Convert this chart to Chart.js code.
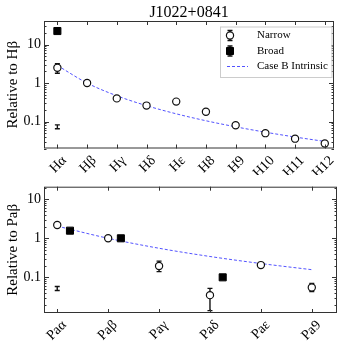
<!DOCTYPE html>
<html>
<head>
<meta charset="utf-8">
<script src="https://cdn.jsdelivr.net/npm/chart.js@4.4.1/dist/chart.umd.min.js"></script>
<style>
  body { margin: 0; background: #fff; }
  #wrap { position: relative; width: 345px; height: 351px; }
  canvas { position: absolute; left: 0; top: 0; }
</style>
</head>
<body>
<div id="wrap">
  <canvas id="top" width="345" height="351"></canvas>
  <canvas id="bottom" width="345" height="351"></canvas>
</div>
<script>
// Balmer panel
const hLabels = ['Hα', 'Hβ', 'Hγ', 'Hδ', 'Hε', 'H8', 'H9', 'H10', 'H11', 'H12'];
const hNarrow = [2.5, 1.0, 0.40, 0.26, 0.33, 0.18, 0.080, 0.050, 0.036, 0.027];
const hNarrowLo = [1.8, null, null, null, null, null, null, null, 0.031, null];
const hNarrowHi = [3.2, null, null, null, null, null, null, null, 0.041, null];
const hBroad = [22.4, null, null, null, null, null, null, null, null, null];
const hCaseB = [2.86, 1.0, 0.468, 0.259, 0.159, 0.105, 0.0731, 0.053, 0.0397, 0.0305];
const hSys = [0.073];
const hSysLo = [0.065];
const hSysHi = [0.082];

// Paschen panel
const paLabels = ['Paα', 'Paβ', 'Paγ', 'Paδ', 'Paε', 'Pa9'];
const paNarrow = [2.2, 1.0, 0.195, 0.035, 0.206, 0.055];
const paNarrowLo = [null, null, 0.14, 0.014, null, 0.043];
const paNarrowHi = [null, null, 0.26, 0.052, null, 0.070];
const paBroad = [1.57, 1.0, null, 0.10, null, null];
const paCaseB = [2.05, 1.0, 0.556, 0.342, 0.226, 0.157];
const paSys = [0.052];
const paSysLo = [0.046];
const paSysHi = [0.058];

const SERIF = '"Liberation Serif", "DejaVu Serif", serif';
const LINE_BLUE = 'rgba(40,40,255,0.8)';

function points(vals, lo, hi, shift) {
    const out = [];
    vals.forEach((v, i) => {
        if (v == null) return;
        out.push({ x: i + shift, y: v, lo: lo ? lo[i] : null, hi: hi ? hi[i] : null });
    });
    return out;
}

// error bars, drawn under the markers
const errorBars = {
    id: 'errorBars',
    beforeDatasetsDraw(chart) {
        const ctx = chart.ctx;
        const a = chart.chartArea;
        const xs = chart.scales.x, ys = chart.scales.y;
        ctx.save();
        ctx.beginPath();
        ctx.rect(a.left, a.top, a.right - a.left, a.bottom - a.top);
        ctx.clip();
        ctx.strokeStyle = '#111';
        ctx.lineWidth = 1.4;
        chart.data.datasets.forEach(ds => {
            ds.data.forEach(p => {
                if (p.lo == null || p.hi == null) return;
                const x = xs.getPixelForValue(p.x);
                const y1 = ys.getPixelForValue(p.lo);
                const y2 = ys.getPixelForValue(p.hi);
                ctx.beginPath();
                ctx.moveTo(x, y1); ctx.lineTo(x, y2);
                ctx.moveTo(x - 2.5, y1); ctx.lineTo(x + 2.5, y1);
                ctx.moveTo(x - 2.5, y2); ctx.lineTo(x + 2.5, y2);
                ctx.stroke();
            });
        });
        ctx.restore();
    }
};

// frame with inward ticks on all sides
const frame = {
    id: 'frame',
    afterDraw(chart) {
        const ctx = chart.ctx;
        const a = chart.chartArea;
        const xs = chart.scales.x, ys = chart.scales.y;
        ctx.save();
        ctx.strokeStyle = '#333';
        ctx.lineWidth = 1;
        ctx.strokeRect(a.left + 0.5, a.top + 0.5, a.right - a.left - 1, a.bottom - a.top - 1);
        ctx.beginPath();
        for (let i = Math.ceil(xs.min); i <= xs.max; i++) {
            const x = Math.round(xs.getPixelForValue(i)) + 0.5;
            ctx.moveTo(x, a.bottom); ctx.lineTo(x, a.bottom - 4);
            ctx.moveTo(x, a.top); ctx.lineTo(x, a.top + 4);
        }
        for (let e = -3; e <= 2; e++) {
            for (let k = 1; k <= 9; k++) {
                const v = k * Math.pow(10, e);
                if (v < ys.min || v > ys.max) continue;
                const y = Math.round(ys.getPixelForValue(v)) + 0.5;
                const len = k === 1 ? 5 : 2.5;
                ctx.moveTo(a.left, y); ctx.lineTo(a.left + len, y);
                ctx.moveTo(a.right, y); ctx.lineTo(a.right - len, y);
            }
        }
        ctx.stroke();
        const t = chart.options.plugins.frame;
        if (t && t.title) {
            ctx.fillStyle = '#000';
            ctx.font = '16px ' + SERIF;
            ctx.textAlign = 'center';
            ctx.textBaseline = 'middle';
            ctx.fillText(t.title, (a.left + a.right) / 2, 13);
        }
        ctx.restore();
    }
};

// legend box inside the upper panel
const insetLegend = {
    id: 'insetLegend',
    afterDraw(chart, args, opts) {
        if (!opts.show) return;
        const ctx = chart.ctx;
        ctx.save();
        ctx.strokeStyle = '#ccc';
        ctx.lineWidth = 1;
        ctx.fillStyle = '#fff';
        ctx.fillRect(opts.x, opts.y, opts.w, opts.h);
        ctx.strokeRect(opts.x + 0.5, opts.y + 0.5, opts.w, opts.h);
        const items = chart.data.datasets.filter(d => d.label);
        items.forEach((ds, i) => {
            const cy = opts.y + 9 + i * 15.5;
            const mx = opts.x + 10;
            if (ds.showLine) {
                ctx.strokeStyle = ds.borderColor;
                ctx.lineWidth = ds.borderWidth;
                ctx.setLineDash(ds.borderDash);
                ctx.beginPath();
                ctx.moveTo(opts.x + 7, cy); ctx.lineTo(opts.x + 28, cy);
                ctx.stroke();
                ctx.setLineDash([]);
            } else {
                ctx.strokeStyle = '#111';
                ctx.lineWidth = 1.4;
                ctx.beginPath();
                ctx.moveTo(mx, cy - 5); ctx.lineTo(mx, cy + 5);
                ctx.moveTo(mx - 2.5, cy - 5); ctx.lineTo(mx + 2.5, cy - 5);
                ctx.moveTo(mx - 2.5, cy + 5); ctx.lineTo(mx + 2.5, cy + 5);
                ctx.stroke();
                ctx.lineWidth = ds.borderWidth;
                ctx.fillStyle = ds.backgroundColor;
                ctx.strokeStyle = ds.borderColor;
                ctx.beginPath();
                if (ds.pointStyle === 'rect') {
                    ctx.rect(mx - 3.5, cy - 3.5, 7, 7);
                } else {
                    ctx.arc(mx, cy, ds.pointRadius, 0, Math.PI * 2);
                }
                ctx.fill();
                ctx.stroke();
            }
            ctx.fillStyle = '#000';
            ctx.font = '11px ' + SERIF;
            ctx.textAlign = 'left';
            ctx.textBaseline = 'middle';
            ctx.fillText(ds.label, opts.x + 37, cy);
        });
        ctx.restore();
    }
};

function makePanel(id, p) {
    const datasets = [
        {
            label: 'Narrow',
            data: points(p.narrow, p.narrowLo, p.narrowHi, 0),
            showLine: false,
            pointStyle: 'circle',
            pointRadius: 3.6,
            backgroundColor: '#fff',
            borderColor: '#111',
            borderWidth: 1.2,
            order: 0
        },
        {
            label: 'Broad',
            data: points(p.broad, null, null, p.broadShift),
            showLine: false,
            pointStyle: 'rect',
            pointRadius: 5,
            backgroundColor: '#000',
            borderColor: '#000',
            borderWidth: 1,
            order: 1
        },
        {
            label: 'Case B Intrinsic',
            data: points(p.caseB, null, null, 0),
            showLine: true,
            borderColor: LINE_BLUE,
            borderWidth: 1,
            borderDash: [3, 2],
            pointRadius: 0,
            cubicInterpolationMode: 'monotone',
            fill: false,
            order: 2
        },
        {
            label: '',
            data: points(p.sys, p.sysLo, p.sysHi, 0),
            showLine: false,
            pointRadius: 0,
            order: 3
        }
    ];
    return new Chart(document.getElementById(id), {
        type: 'scatter',
        data: { datasets: datasets },
        plugins: [errorBars, frame, insetLegend],
        options: {
            responsive: false,
            animation: false,
            events: [],
            layout: { padding: p.padding },
            plugins: {
                legend: { display: false },
                tooltip: { enabled: false },
                frame: { title: p.title },
                insetLegend: p.legend
            },
            scales: {
                x: {
                    type: 'linear',
                    min: p.xMin,
                    max: p.xMax,
                    grid: { display: false, drawTicks: false },
                    border: { display: false },
                    afterBuildTicks: s => { s.ticks = p.labels.map((_, i) => ({ value: i })); },
                    afterFit: s => { s.height = p.xHeight; },
                    ticks: {
                        autoSkip: false,
                        minRotation: 45,
                        maxRotation: 45,
                        padding: 4,
                        labelOffset: 7,
                        color: '#000',
                        font: { family: SERIF, size: 14 },
                        callback: v => p.labels[v]
                    }
                },
                y: {
                    type: 'logarithmic',
                    min: p.yMin,
                    max: p.yMax,
                    grid: { display: false, drawTicks: false },
                    border: { display: false },
                    afterBuildTicks: s => { s.ticks = [{ value: 0.1 }, { value: 1 }, { value: 10 }]; },
                    afterFit: s => { s.width = 44; },
                    ticks: {
                        padding: 3,
                        color: '#000',
                        font: { family: SERIF, size: 14 },
                        callback: v => (v === 0.1 ? '0.1' : String(v))
                    },
                    title: {
                        display: true,
                        text: p.yTitle,
                        color: '#000',
                        font: { family: SERIF, size: 15 },
                        padding: { top: 4, bottom: 0 }
                    }
                }
            }
        }
    });
}

makePanel('top', {
    labels: hLabels, narrow: hNarrow, narrowLo: hNarrowLo, narrowHi: hNarrowHi,
    broad: hBroad, broadShift: 0, caseB: hCaseB, sys: hSys, sysLo: hSysLo, sysHi: hSysHi,
    xMin: -0.45, xMax: 9.31, yMin: 0.02, yMax: 40.8,
    padding: { top: 21, right: 11, left: 0, bottom: 176 }, xHeight: 26.5,
    yTitle: 'Relative to Hβ', title: 'J1022+0841',
    legend: { show: true, x: 220, y: 26.5, w: 111.5, h: 50.5 }
});

makePanel('bottom', {
    labels: paLabels, narrow: paNarrow, narrowLo: paNarrowLo, narrowHi: paNarrowHi,
    broad: paBroad, broadShift: 0.25, caseB: paCaseB, sys: paSys, sysLo: paSysLo, sysHi: paSysHi,
    xMin: -0.26, xMax: 5.495, yMin: 0.0122, yMax: 21,
    padding: { top: 186.7, right: 8, left: 0, bottom: 0 }, xHeight: 38,
    yTitle: 'Relative to Paβ', title: null,
    legend: { show: false }
});
</script>
</body>
</html>
